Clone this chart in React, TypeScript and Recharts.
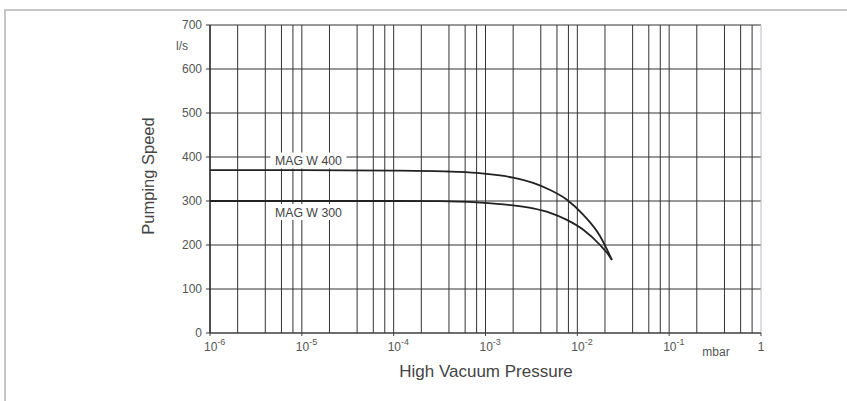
import React from 'react';
import { LineChart, Line, XAxis, YAxis, CartesianGrid, ReferenceLine, ReferenceDot } from 'recharts';

// Pumping speed curves (pressure in mbar, speed in l/s)
const mag400Pressure = [1e-6, 1e-5, 1e-4, 4e-4, 8e-4, 1.44e-3, 2e-3, 3.3e-3, 5.06e-3, 7.7e-3, 1.17e-2, 1.77e-2, 2.09e-2, 2.38e-2];
const mag400Speed = [370, 370, 369, 367, 364, 358, 353, 341, 325, 303, 268, 220, 191, 166];

const mag300Pressure = [1e-6, 1e-5, 1e-4, 3.2e-4, 8e-4, 1.44e-3, 2e-3, 3.3e-3, 5.06e-3, 7.7e-3, 1.17e-2, 1.77e-2, 2.09e-2, 2.38e-2];
const mag300Speed = [300, 300, 300, 299.5, 297, 293, 290, 283, 273, 257, 234, 200, 183, 166];

const xTicks = [1e-6, 1e-5, 1e-4, 1e-3, 1e-2, 1e-1, 1];
const yTicks = [0, 100, 200, 300, 400, 500, 600, 700];
const gridMultipliers = [2, 4, 6, 8, 10];

// series label anchors (pressure, speed)
const labelNames = ['MAG W 400', 'MAG W 300'];
const labelPressure = [1.18e-5, 1.18e-5];
const labelSpeed = [392, 275];

const mag400 = mag400Pressure.map((p, i) => ({ p, v: mag400Speed[i] }));
const mag300 = mag300Pressure.map((p, i) => ({ p, v: mag300Speed[i] }));
const gridValues = xTicks.slice(0, -1).flatMap(d => gridMultipliers.map(m => d * m));

const FONT = '"Liberation Sans", Arial, Helvetica, sans-serif';

const XTick = (props: any) => {
  const { x, y, payload } = props;
  const v = payload.value;
  if (v === 1) {
    return (
      <text x={x} y={y + 13} textAnchor="middle" fontSize={12} fill="#555" fontFamily={FONT}>1</text>
    );
  }
  const exp = Math.round(Math.log10(v));
  return (
    <text x={x - 6} y={y + 13} fontSize={12} fill="#555" fontFamily={FONT}>
      10<tspan dy={-6} fontSize={9}>{`-${Math.abs(exp)}`}</tspan>
    </text>
  );
};

const SeriesLabel = (text: string) => (props: any) => {
  const { cx, cy } = props;
  return (
    <g>
      <rect x={cx - 38} y={cy - 8} width={76} height={16} fill="#fff" />
      <text x={cx} y={cy + 4.5} textAnchor="middle" fontSize={12.3} fill="#444" fontFamily={FONT}>{text}</text>
    </g>
  );
};

export default function App() {
  return (
    <div style={{ position: 'absolute', left: 0, top: 0, width: 847, height: 401, background: '#fff', overflow: 'hidden', fontFamily: FONT }}>
      <div style={{ position: 'absolute', left: 4, top: 9, width: 900, height: 500, borderLeft: '2px solid #c6c6c6', borderTop: '2px solid #c6c6c6' }} />
      <div style={{ position: 'absolute', left: 0, top: 0 }}>
        <LineChart width={847} height={401} margin={{ top: 25, right: 86, left: 160, bottom: 38 }}>
          <CartesianGrid horizontal vertical={false} stroke="#333" strokeWidth={1} />
          {gridValues.map(g => (
            <ReferenceLine key={g} x={g} stroke={g === 1 ? '#b8bcc4' : '#333'} strokeWidth={1} />
          ))}
          <XAxis
            dataKey="p"
            type="number"
            scale="log"
            domain={[1e-6, 1]}
            ticks={xTicks}
            allowDataOverflow
            height={30}
            tick={<XTick />}
            tickSize={3}
            tickMargin={2}
            axisLine={{ stroke: '#444' }}
            tickLine={{ stroke: '#444' }}
          />
          <YAxis
            type="number"
            domain={[0, 700]}
            ticks={yTicks}
            width={50}
            tickSize={4}
            tickMargin={4}
            tick={{ fontSize: 12, fill: '#555', fontFamily: FONT }}
            axisLine={{ stroke: '#222', strokeWidth: 1.6 }}
            tickLine={{ stroke: '#333' }}
          />
          <Line data={mag400} dataKey="v" type="monotone" stroke="#222" strokeWidth={1.8} dot={false} isAnimationActive={false} />
          <Line data={mag300} dataKey="v" type="monotone" stroke="#222" strokeWidth={1.8} dot={false} isAnimationActive={false} />
          {labelNames.map((n, i) => (
            <ReferenceDot key={n} x={labelPressure[i]} y={labelSpeed[i]} r={0} shape={SeriesLabel(n)} />
          ))}
        </LineChart>
      </div>
      <svg width={847} height={401} style={{ position: 'absolute', left: 0, top: 0, pointerEvents: 'none' }}>
        <text x={182} y={50} textAnchor="middle" fontSize={12} fill="#555" fontFamily={FONT}>l/s</text>
        <text x={716} y={356} textAnchor="middle" fontSize={12} fill="#555" fontFamily={FONT}>mbar</text>
        <text x={486} y={377} textAnchor="middle" fontSize={17} fill="#444" fontFamily={FONT}>High Vacuum Pressure</text>
        <text x={154} y={176} textAnchor="middle" fontSize={16.5} fill="#444" fontFamily={FONT} transform="rotate(-90 154 176)">Pumping Speed</text>
      </svg>
    </div>
  );
}
